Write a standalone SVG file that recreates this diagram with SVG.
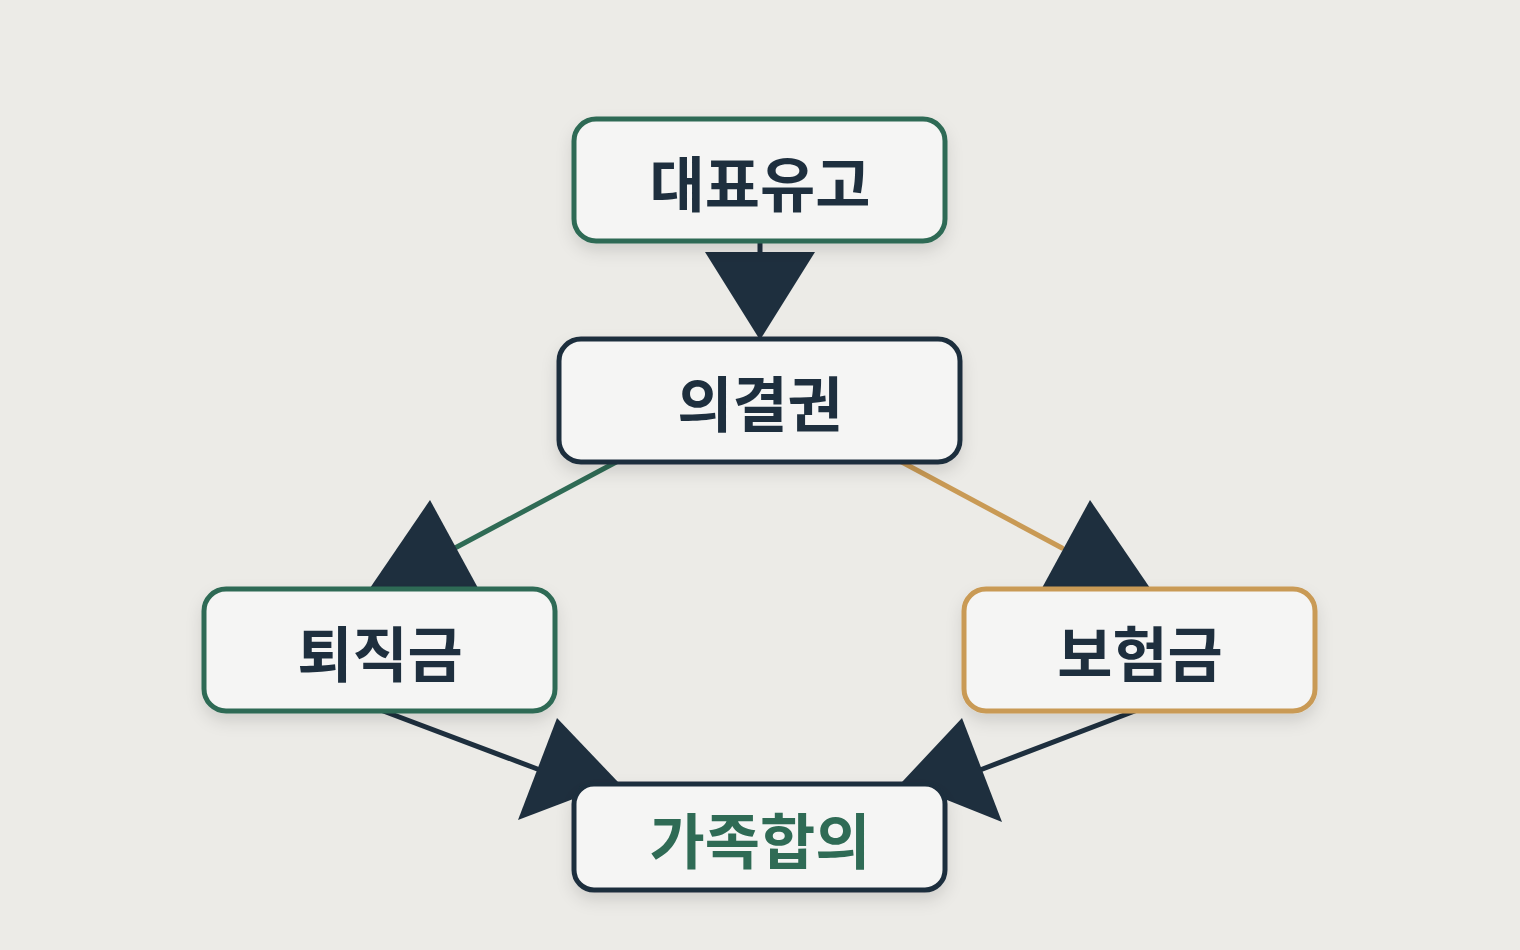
<svg xmlns="http://www.w3.org/2000/svg" width="1520" height="950" viewBox="0 0 1520 950">
<defs>
<filter id="sh" x="-20%" y="-20%" width="140%" height="160%"><feDropShadow dx="0" dy="8" stdDeviation="8" flood-color="#000" flood-opacity="0.12"/></filter>
<style>
.n{fill:#f5f5f4;stroke-width:5;filter:url(#sh)}
.t{font-family:"Noto Sans CJK KR","Noto Sans",sans-serif;font-weight:700;font-size:60px;fill:#1e2f3e;text-anchor:middle;dominant-baseline:central}
.c{stroke-width:5;fill:none;stroke-linecap:round}
.h{fill:#1e2f3e}
</style>
</defs>
<rect width="1520" height="950" fill="#ecebe7"/>
<g id="connectors">
<line class="c" x1="760" y1="241" x2="760" y2="260" stroke="#1e2f3e"/>
<polygon class="h" points="705,252 815,252 760,340"/>
<line class="c" x1="620" y1="460" x2="455" y2="548" stroke="#2f6b55"/>
<polygon class="h" points="430,500 370,588 478,588"/>
<line class="c" x1="898" y1="460" x2="1062" y2="548" stroke="#c99a55"/>
<polygon class="h" points="1090,500 1042,588 1150,588"/>
<line class="c" x1="378" y1="709" x2="540" y2="770" stroke="#1e2f3e"/>
<polygon class="h" points="557,718 518,820 618,782"/>
<line class="c" x1="1140" y1="709" x2="980" y2="770" stroke="#1e2f3e"/>
<polygon class="h" points="962,718 1002,822 902,782"/>
</g>
<g id="n1"><rect class="n" x="574" y="119" width="371" height="122" rx="22" stroke="#2f6b55"/><text class="t" x="760" y="180">대표유고</text></g>
<g id="n2"><rect class="n" x="559" y="339" width="401" height="123" rx="22" stroke="#1e2f3e"/><text class="t" x="760" y="400">의결권</text></g>
<g id="n3"><rect class="n" x="204" y="589" width="351" height="122" rx="22" stroke="#2f6b55"/><text class="t" x="380" y="650">퇴직금</text></g>
<g id="n4"><rect class="n" x="964" y="589" width="351" height="122" rx="22" stroke="#c99a55"/><text class="t" x="1140" y="650">보험금</text></g>
<g id="n5"><rect class="n" x="574" y="784" width="371" height="106" rx="20" stroke="#1e2f3e"/><text class="t" x="760" y="837" style="fill:#2f6b55">가족합의</text></g>
</svg>
